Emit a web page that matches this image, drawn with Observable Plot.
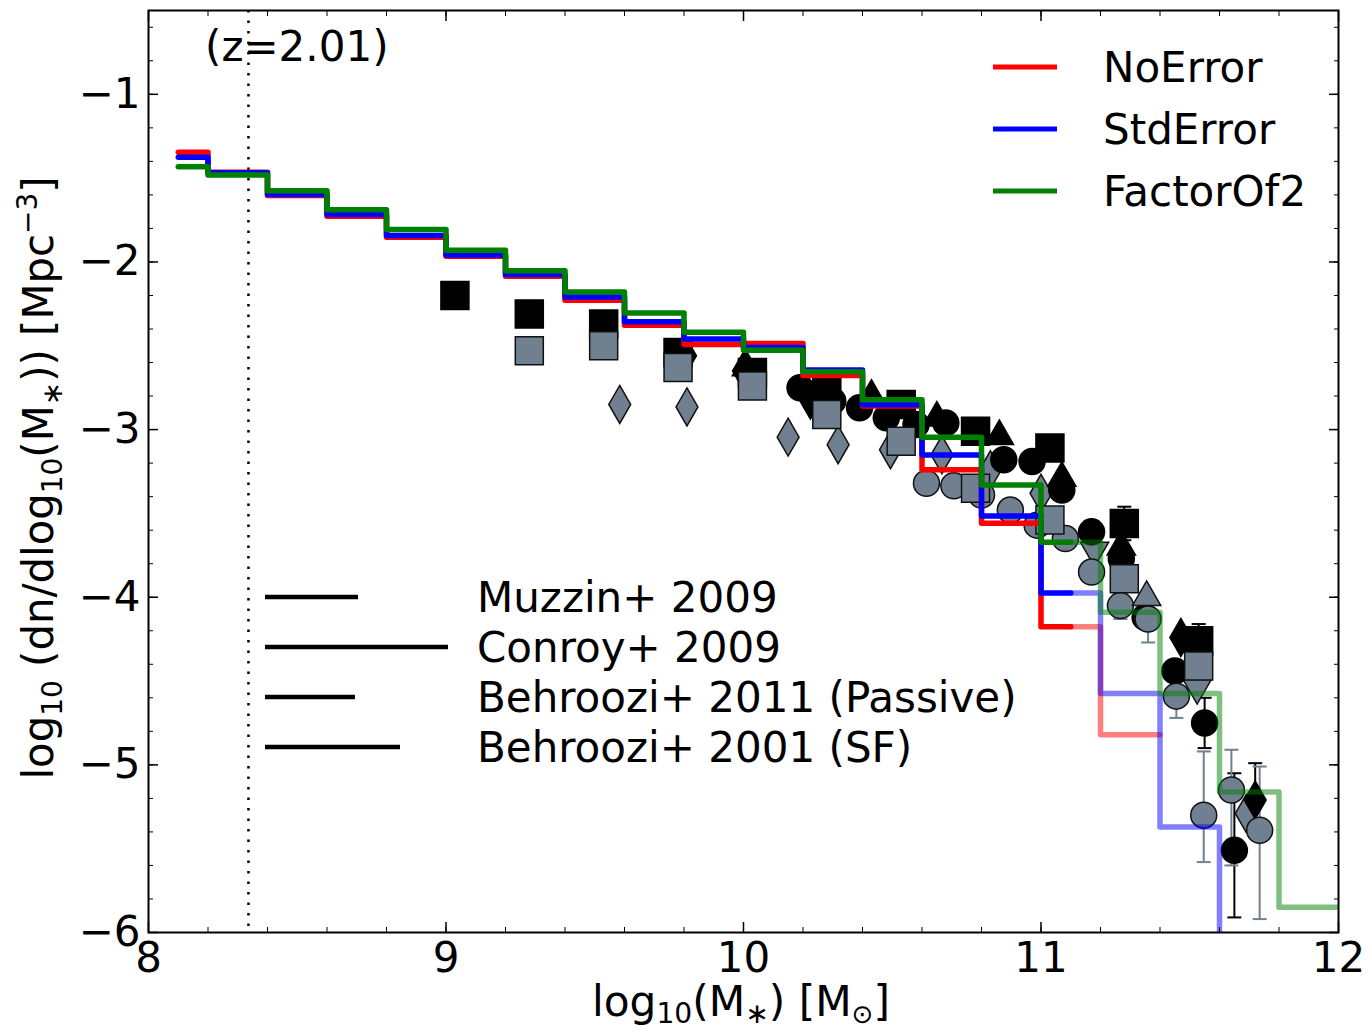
<!DOCTYPE html>
<html>
<head>
<meta charset="utf-8">
<script src="https://cdn.jsdelivr.net/npm/d3@7"></script>
<script src="https://cdn.jsdelivr.net/npm/@observablehq/plot@0.6"></script>
<style>
  body { margin: 0; background: #fff; }
  #chart { position: relative; width: 1372px; height: 1034px; }
</style>
</head>
<body>
<div id="chart"></div>
<script>
// ---------------- DATA ----------------
const binCenters = [8.1, 8.3, 8.5, 8.7, 8.9, 9.1, 9.3, 9.5, 9.7, 9.9, 10.1, 10.3, 10.5, 10.7, 10.9, 11.1, 11.3, 11.5, 11.7, 11.9, 12.1];
const noError   = [-1.345, -1.465, -1.603, -1.727, -1.852, -1.966, -2.085, -2.229, -2.378, -2.493, -2.487, -2.678, -2.860, -3.240, -3.559, -4.176, -4.820, NaN, NaN, NaN, NaN];
const stdError  = [-1.375, -1.468, -1.597, -1.717, -1.842, -1.958, -2.075, -2.209, -2.356, -2.460, -2.510, -2.645, -2.852, -3.151, -3.515, -3.975, -4.574, -5.370, -6.600, NaN, NaN];
const factorOf2 = [-1.432, -1.482, -1.575, -1.689, -1.806, -1.930, -2.053, -2.179, -2.304, -2.420, -2.527, -2.655, -2.822, -3.045, -3.330, -3.672, -4.090, -4.574, -5.162, -5.850, -5.850];
const seriesNames = ["NoError", "StdError", "FactorOf2"];
const fadeFrom = 11.1;          // model lines drawn faded above this mass
const completenessLimit = 8.336; // dotted vertical line
const redshiftLabel = "(z=2.01)";

// observational points  [log M*, log phi]
const blackSquares = [[9.03,-2.20],[9.28,-2.31],[9.53,-2.37],[9.78,-2.54],[10.03,-2.66],[10.28,-2.75],[10.53,-2.85],[10.78,-3.01],[11.03,-3.11],[11.28,-3.56],[11.53,-4.26]];
const graySquares  = [[9.28,-2.53],[9.53,-2.50],[9.78,-2.63],[10.03,-2.74],[10.28,-2.91],[10.53,-3.07],[10.78,-3.35],[11.03,-3.54],[11.28,-3.89],[11.53,-4.41]];
const blackCircles = [[10.19,-2.75],[10.30,-2.83],[10.39,-2.87],[10.48,-2.93],[10.58,-2.97],[10.68,-2.96],[10.875,-3.18],[10.97,-3.19],[11.07,-3.36],[11.17,-3.61],[11.27,-3.77],[11.35,-4.12],[11.45,-4.44],[11.55,-4.75],[11.65,-5.51]];
const grayCircles  = [[10.615,-3.32],[10.707,-3.335],[10.80,-3.39],[10.897,-3.48],[10.987,-3.57],[11.082,-3.65],[11.17,-3.85],[11.267,-4.05],[11.36,-4.13],[11.455,-4.59],[11.547,-5.30],[11.64,-5.15],[11.735,-5.39]];
const blackDiamonds = [[9.805,-2.56],[10.0,-2.65],[11.47,-4.24],[11.72,-5.21]];
const grayDiamonds  = [[9.584,-2.85],[9.81,-2.865],[10.15,-3.045],[10.318,-3.09],[10.494,-3.12],[10.667,-3.15],[10.83,-3.24],[11.0,-3.38],[11.69,-5.29]];
const blackTriangles = [[10.01,-2.63],[10.43,-2.80],[10.65,-2.93],[10.86,-3.04],[11.07,-3.29],[11.27,-3.70]];
const blackTrianglesDown = [[10.225,-2.84]];
const grayTrianglesUp = [[11.355,-4.00]];
const grayTrianglesDown = [[11.18,-3.72],[11.525,-4.54]];

// error bars [x, low, high]
const blackErrors = [[11.28,-3.66,-3.46],[11.53,-4.36,-4.16],[11.55,-4.90,-4.60],[11.65,-5.91,-5.05],[11.72,-5.43,-4.99]];
const grayErrors  = [[10.28,-2.99,-2.84],[10.53,-3.15,-3.00],[10.78,-3.43,-3.28],[11.267,-4.13,-3.98],[11.36,-4.27,-4.00],[11.455,-4.72,-4.47],[11.547,-5.58,-4.92],[11.64,-5.60,-4.91],[11.735,-5.92,-5.01]];

const obsNames = ["Muzzin+ 2009", "Conroy+ 2009", "Behroozi+ 2011 (Passive)", "Behroozi+ 2001 (SF)"];

const xMajor = [8, 9, 10, 11, 12];
const xMinor = d3.range(0, 21).map(i => 8 + i * 0.2);
const yMajor = [-6, -5, -4, -3, -2, -1];
const yMinor = d3.range(0, 28).map(i => -6 + i * 0.2);

// ---------------- STYLE ----------------
const colors = ["#ff0000", "#0000ff", "#008000"];
const slate = "#708090";
const font = "'DejaVu Sans', sans-serif";

// matplotlib-style "steps-mid" vertices (centres kept as collinear vertices)
function midSteps(xs, ys, name) {
  const out = [];
  for (let i = 0; i < xs.length; i++) {
    if (i > 0) out.push({x: (xs[i - 1] + xs[i]) / 2, y: ys[i], name});
    out.push({x: xs[i], y: ys[i], name});
    if (i < xs.length - 1) out.push({x: (xs[i] + xs[i + 1]) / 2, y: ys[i], name});
  }
  return out;
}
const allSeries = [noError, stdError, factorOf2];
const stepMarks = [];
allSeries.forEach((vals, k) => {
  const pts = midSteps(binCenters, vals, seriesNames[k]);
  const solid = pts.filter(p => p.x <= fadeFrom + 1e-9);
  const faded = pts.filter(p => p.x >= fadeFrom - 1e-9);
  stepMarks.push(Plot.line(solid, {x: "x", y: "y", stroke: colors[k], strokeWidth: 5.5, clip: true}));
  stepMarks.push(Plot.line(faded, {x: "x", y: "y", stroke: colors[k], strokeWidth: 5.5, strokeOpacity: 0.5, clip: true}));
});

const triDown = {draw(ctx, size) {
  const y = Math.sqrt(size / (3 * Math.sqrt(3)));
  ctx.moveTo(0, 2 * y); ctx.lineTo(-Math.sqrt(3) * y, -y); ctx.lineTo(Math.sqrt(3) * y, -y); ctx.closePath();
}};
const capSymbol = {draw(ctx, size) {
  const w = Math.sqrt(size) / 2;
  ctx.moveTo(-w, 0); ctx.lineTo(w, 0);
}};

function dots(arr, symbol, r, fill, stroke) {
  return Plot.dot(arr, {x: d => d[0], y: d => d[1], symbol, r, fill, stroke, strokeWidth: 1.5, clip: true});
}
function errMarks(arr, color) {
  const caps = arr.flatMap(d => [[d[0], d[1]], [d[0], d[2]]]);
  return [
    Plot.ruleX(arr, {x: d => d[0], y1: d => d[1], y2: d => d[2], stroke: color, strokeWidth: 2, clip: true}),
    Plot.dot(caps, {x: d => d[0], y: d => d[1], symbol: capSymbol, r: 7.9, stroke: color, strokeWidth: 2, fill: "none", clip: true})
  ];
}

const svg = Plot.plot({
  width: 1372, height: 1034,
  marginLeft: 148, marginRight: 34, marginTop: 10, marginBottom: 102,
  style: {fontFamily: font, fontSize: "42px", background: "#fff", color: "black"},
  x: {domain: [8, 12]},
  y: {domain: [-6, -0.5]},
  marks: [
    Plot.ruleX([completenessLimit], {stroke: "black", strokeWidth: 2.5, strokeDasharray: "2.5,8"}),
    ...errMarks(blackErrors, "black"),
    ...errMarks(grayErrors, slate),
    dots(grayDiamonds, "diamond", 11.5, slate, "#111"),
    dots(grayTrianglesDown, triDown, 10.5, slate, "#111"),
    dots(blackSquares, "square", 15.8, "black", "black"),
    dots(blackCircles, "circle", 13, "black", "black"),
    dots(blackTriangles, "triangle", 10.5, "black", "black"),
    dots(blackTrianglesDown, triDown, 10.5, "black", "black"),
    dots(blackDiamonds, "diamond", 11.5, "black", "black"),
    dots(grayCircles, "circle", 13, slate, "#111"),
    dots(graySquares, "square", 15.8, slate, "#111"),
    dots(grayTrianglesUp, "triangle", 10.5, slate, "#111"),
    ...stepMarks,
    Plot.frame({stroke: "black", strokeWidth: 2}),
    Plot.axisX(xMajor, {anchor: "bottom", tickSize: -10, tickPadding: 20, tickFormat: d3.format("d"), fontSize: 42, label: null, strokeWidth: 1.5}),
    Plot.axisX(xMinor, {anchor: "bottom", tickSize: -5, tickFormat: () => "", label: null}),
    Plot.axisX(xMajor, {anchor: "top", tickSize: -10, tickFormat: () => "", label: null, strokeWidth: 1.5}),
    Plot.axisX(xMinor, {anchor: "top", tickSize: -5, tickFormat: () => "", label: null}),
    Plot.axisY(yMajor, {anchor: "left", tickSize: -10, tickPadding: 18, tickFormat: d3.format("d"), fontSize: 42, label: null, strokeWidth: 1.5}),
    Plot.axisY(yMinor, {anchor: "left", tickSize: -5, tickFormat: () => "", label: null}),
    Plot.axisY(yMajor, {anchor: "right", tickSize: -10, tickFormat: () => "", label: null, strokeWidth: 1.5}),
    Plot.axisY(yMinor, {anchor: "right", tickSize: -5, tickFormat: () => "", label: null})
  ]
});
document.getElementById("chart").appendChild(svg);

// ---------------- TEXT / LEGENDS ----------------
const s = d3.select(svg);
const g = s.append("g").attr("font-family", font).attr("font-size", 42).attr("fill", "black")
  .attr("text-anchor", "start");

// redshift label
g.append("text").attr("x", 205).attr("y", 61).text(redshiftLabel);

// model legend (top right)
seriesNames.forEach((n, i) => {
  const y = 67 + i * 62;
  g.append("line").attr("x1", 993).attr("x2", 1057).attr("y1", y).attr("y2", y)
    .attr("stroke", colors[i]).attr("stroke-width", 5);
  g.append("text").attr("x", 1103).attr("y", y + 15).text(n);
});

// observations legend
const obsLineEnds = [358, 448, 355, 400];
obsNames.forEach((n, i) => {
  const y = 597 + i * 50;
  g.append("line").attr("x1", 265).attr("x2", obsLineEnds[i]).attr("y1", y).attr("y2", y)
    .attr("stroke", "black").attr("stroke-width", 4.5);
  g.append("text").attr("x", 477).attr("y", y + 15).text(n);
});

// axis titles
const xl = g.append("text").attr("x", 741).attr("y", 1016).attr("text-anchor", "middle")
  .attr("textLength", 298).attr("lengthAdjust", "spacingAndGlyphs");
xl.append("tspan").text("log");
xl.append("tspan").attr("font-size", 28).attr("dy", 7).text("10");
xl.append("tspan").attr("dy", -7).text("(M");
xl.append("tspan").attr("font-size", 28).attr("dy", 7).text("∗");
xl.append("tspan").attr("dy", -7).text(") [M");
xl.append("tspan").attr("font-size", 26).attr("dy", 7).text("⊙");
xl.append("tspan").attr("dy", -7).text("]");

const yl = g.append("text").attr("transform", "translate(53,478) rotate(-90)").attr("text-anchor", "middle")
  .attr("textLength", 603).attr("lengthAdjust", "spacingAndGlyphs");
yl.append("tspan").text("log");
yl.append("tspan").attr("font-size", 28).attr("dy", 9).text("10");
yl.append("tspan").attr("dy", -9).text(" (dn/dlog");
yl.append("tspan").attr("font-size", 28).attr("dy", 9).text("10");
yl.append("tspan").attr("dy", -9).text("(M");
yl.append("tspan").attr("font-size", 28).attr("dy", 9).text("∗");
yl.append("tspan").attr("dy", -9).text(")) [Mpc");
yl.append("tspan").attr("font-size", 28).attr("dy", -16).text("−3");
yl.append("tspan").attr("dy", 16).text("]");
</script>
</body>
</html>
